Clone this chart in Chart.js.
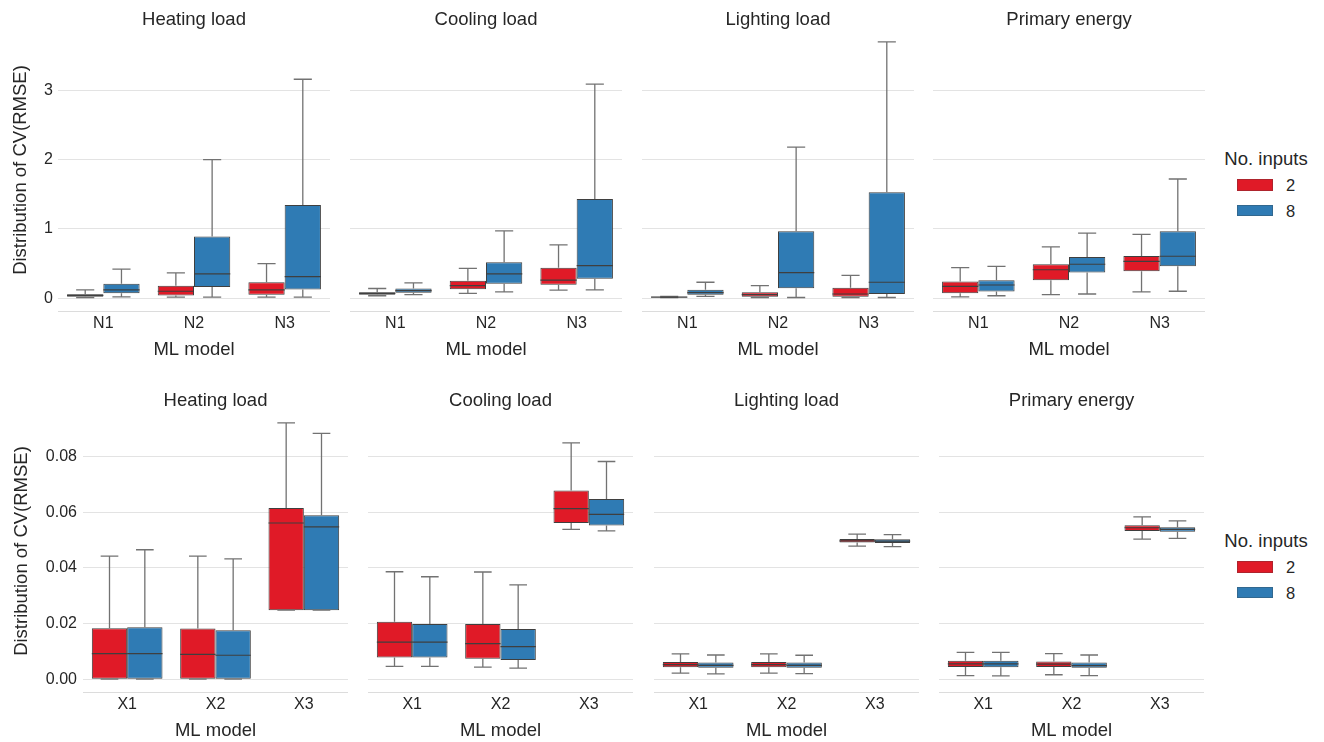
<!DOCTYPE html>
<html>
<head>
<meta charset="utf-8">
<script src="https://cdn.jsdelivr.net/npm/chart.js@4.4.1/dist/chart.umd.min.js"></script>
<style>
  body { margin: 0; background: #fff; width: 1324px; height: 742px; overflow: hidden; position: relative;
         font-family: "Liberation Sans", Arial, sans-serif; color: #262626; }
  canvas { position: absolute; }
  .lg-title { position: absolute; width: 100px; text-align: center; font-size: 18.5px; line-height: 20px; }
  .lg-box { position: absolute; width: 36px; height: 11.5px; box-sizing: border-box; border: 1px solid rgba(60,60,60,0.3); }
  .lg-text { position: absolute; font-size: 16.5px; line-height: 20px; }
</style>
</head>
<body>
<canvas id="n0"></canvas><canvas id="n1"></canvas><canvas id="n2"></canvas><canvas id="n3"></canvas>
<canvas id="x0"></canvas><canvas id="x1"></canvas><canvas id="x2"></canvas><canvas id="x3"></canvas>
<div id="legends"></div>
<script>
// ---- data ----
const loadNames = ['Heating load', 'Cooling load', 'Lighting load', 'Primary energy'];
const nModels = ['N1', 'N2', 'N3'];
const xModels = ['X1', 'X2', 'X3'];
const inputCounts = ['2', '8'];
const nTicks = [0, 1, 2, 3];
const xTicks = [0, 0.02, 0.04, 0.06, 0.08];
const xAxisTitle = 'ML model';
const yAxisTitle = 'Distribution of CV(RMSE)';
const legendTitle = 'No. inputs';

// each row: [min, q1, median, q3, max]
const nHeating2 = [[0.008, 0.022, 0.04, 0.058, 0.12], [0.015, 0.04, 0.10, 0.18, 0.365], [0.015, 0.05, 0.12, 0.23, 0.50]];
const nHeating8 = [[0.02, 0.07, 0.12, 0.21, 0.42], [0.015, 0.16, 0.35, 0.89, 2.0], [0.015, 0.125, 0.31, 1.345, 3.16]];
const nCooling2 = [[0.035, 0.05, 0.07, 0.085, 0.14], [0.07, 0.13, 0.18, 0.25, 0.43], [0.115, 0.195, 0.26, 0.44, 0.77]];
const nCooling8 = [[0.05, 0.08, 0.11, 0.14, 0.22], [0.09, 0.21, 0.35, 0.52, 0.97], [0.12, 0.28, 0.47, 1.43, 3.09]];
const nLighting2 = [[0.008, 0.012, 0.015, 0.02, 0.025], [0.01, 0.02, 0.05, 0.085, 0.18], [0.01, 0.02, 0.06, 0.15, 0.33]];
const nLighting8 = [[0.025, 0.05, 0.08, 0.12, 0.23], [0.01, 0.145, 0.37, 0.965, 2.18], [0.01, 0.06, 0.23, 1.53, 3.70]];
const nPrimary2 = [[0.02, 0.07, 0.17, 0.24, 0.44], [0.05, 0.26, 0.41, 0.49, 0.74], [0.09, 0.39, 0.53, 0.61, 0.92]];
const nPrimary8 = [[0.035, 0.095, 0.19, 0.26, 0.46], [0.06, 0.37, 0.49, 0.595, 0.94], [0.10, 0.46, 0.605, 0.965, 1.72]];

const xHeating2 = [[0, 0, 0.0092, 0.0183, 0.0442], [0, 0, 0.0089, 0.0182, 0.0442], [0.0248, 0.0248, 0.0561, 0.0615, 0.0921]];
const xHeating8 = [[0, 0, 0.0092, 0.0187, 0.0465], [0, 0, 0.0086, 0.0176, 0.0432], [0.0248, 0.0248, 0.0547, 0.0589, 0.0883]];
const xCooling2 = [[0.0046, 0.0078, 0.0133, 0.0206, 0.0386], [0.0043, 0.0073, 0.0128, 0.0198, 0.0385], [0.0538, 0.0561, 0.0613, 0.0678, 0.0849]];
const xCooling8 = [[0.0046, 0.0078, 0.0133, 0.0198, 0.0368], [0.004, 0.0069, 0.0117, 0.018, 0.0339], [0.0533, 0.0552, 0.0592, 0.0647, 0.0782]];
const xLighting2 = [[0.0022, 0.0043, 0.0052, 0.0062, 0.0091], [0.0022, 0.0043, 0.0052, 0.0062, 0.0091], [0.0478, 0.0491, 0.0497, 0.0504, 0.0521]];
const xLighting8 = [[0.0019, 0.0041, 0.005, 0.006, 0.0087], [0.002, 0.0041, 0.005, 0.006, 0.0086], [0.0476, 0.0489, 0.0496, 0.0503, 0.0519]];
const xPrimary2 = [[0.0013, 0.0044, 0.0055, 0.0066, 0.0096], [0.0016, 0.0044, 0.0054, 0.0064, 0.0092], [0.0503, 0.0532, 0.0544, 0.0553, 0.0583]];
const xPrimary8 = [[0.0012, 0.0043, 0.0055, 0.0066, 0.0096], [0.0013, 0.0041, 0.0049, 0.006, 0.0087], [0.0506, 0.053, 0.0538, 0.0546, 0.0569]];

// ---- style ----
const RED = '#e01a27';
const BLUE = '#2f7bb4';
const LINE = '#3f3f3f';
const WHISKER = '#727272';
const GRID = '#e3e3e3';
const TEXT = '#262626';
const FONT = '"Liberation Sans", Arial, sans-serif';
const AXIS_H = 50;
const LABEL_SIZE = 18.5;
const TICK_SIZE = 16;

Chart.defaults.font.family = FONT;
Chart.defaults.color = TEXT;

// whiskers, caps and median lines on top of the floating bars
const boxWhiskers = {
  id: 'boxWhiskers',
  afterDatasetsDraw(chart) {
    const ctx = chart.ctx;
    const y = chart.scales.y;
    chart.data.datasets.forEach((ds, di) => {
      chart.getDatasetMeta(di).data.forEach((bar, i) => {
        const [lo, q1, med, q3, hi] = ds.stats[i];
        const half = bar.width / 2;
        const cap = bar.width / 4;
        const x = bar.x;
        ctx.save();
        ctx.strokeStyle = WHISKER;
        ctx.lineWidth = 1.3;
        ctx.beginPath();
        ctx.moveTo(x, y.getPixelForValue(q3));
        ctx.lineTo(x, y.getPixelForValue(hi));
        ctx.moveTo(x - cap, y.getPixelForValue(hi));
        ctx.lineTo(x + cap, y.getPixelForValue(hi));
        ctx.moveTo(x, y.getPixelForValue(q1));
        ctx.lineTo(x, y.getPixelForValue(lo));
        ctx.moveTo(x - cap, y.getPixelForValue(lo));
        ctx.lineTo(x + cap, y.getPixelForValue(lo));
        ctx.stroke();
        ctx.strokeStyle = LINE;
        ctx.lineWidth = 1.2;
        ctx.beginPath();
        ctx.moveTo(x - half, y.getPixelForValue(med));
        ctx.lineTo(x + half, y.getPixelForValue(med));
        ctx.stroke();
        ctx.restore();
      });
    });
  }
};

function boxDataset(stats, color, label) {
  return {
    label: label,
    stats: stats,
    data: stats.map(s => [s[1], s[3]]),
    backgroundColor: color,
    borderColor: LINE,
    borderWidth: 1,
    borderSkipped: false,
    categoryPercentage: 0.8,
    barPercentage: 1.0
  };
}

function makePanel(id, p) {
  const el = document.getElementById(id);
  const yW = p.first ? p.left : 0;
  el.width = yW + p.plotW;
  el.height = p.height;
  el.style.left = (p.left - yW) + 'px';
  el.style.top = p.top + 'px';

  new Chart(el, {
    type: 'bar',
    data: {
      labels: p.labels,
      datasets: [boxDataset(p.s2, RED, inputCounts[0]), boxDataset(p.s8, BLUE, inputCounts[1])]
    },
    options: {
      responsive: false,
      animation: false,
      events: [],
      layout: { padding: 0 },
      plugins: {
        legend: { display: false },
        tooltip: { enabled: false },
        title: {
          display: true, text: p.title, fullSize: false, color: TEXT,
          font: { size: LABEL_SIZE, weight: 'normal', lineHeight: 1 },
          padding: { top: p.titlePad, bottom: 0 }
        }
      },
      scales: {
        x: {
          grid: { display: false, drawTicks: false },
          border: { display: true, color: '#dcdcdc', width: 1 },
          ticks: { padding: 3, font: { size: TICK_SIZE }, color: TEXT },
          title: { display: true, text: xAxisTitle, color: TEXT, font: { size: LABEL_SIZE }, padding: { top: 0, bottom: 0 } },
          afterFit: s => { s.height = AXIS_H; }
        },
        y: {
          min: p.yMin,
          max: p.yMax,
          afterBuildTicks: s => { s.ticks = p.ticks.map(v => ({ value: v })); },
          grid: { color: GRID, lineWidth: 1, drawTicks: false },
          border: { display: false },
          ticks: { display: p.first, padding: p.tickPad, font: { size: TICK_SIZE }, color: TEXT, callback: p.fmt },
          title: { display: p.first, text: yAxisTitle, color: TEXT, font: { size: LABEL_SIZE }, padding: { top: p.yTitlePad, bottom: 0 } },
          afterFit: s => { s.width = yW; }
        }
      }
    },
    plugins: [boxWhiskers]
  });
}

const nSets = [[nHeating2, nHeating8], [nCooling2, nCooling8], [nLighting2, nLighting8], [nPrimary2, nPrimary8]];
const xSets = [[xHeating2, xHeating8], [xCooling2, xCooling8], [xLighting2, xLighting8], [xPrimary2, xPrimary8]];

const topLefts = [58, 350, 642, 933];
const bottomLefts = [83, 368, 654, 939];

nSets.forEach((s, i) => makePanel('n' + i, {
  left: topLefts[i], top: 0, plotW: 272, height: 361, titlePad: 10.5,
  first: i === 0, labels: nModels, s2: s[0], s8: s[1], title: loadNames[i],
  yMin: -0.185, yMax: 3.885, ticks: nTicks, fmt: v => String(v), tickPad: 5, yTitlePad: 10
}));

xSets.forEach((s, i) => makePanel('x' + i, {
  left: bottomLefts[i], top: 380, plotW: 265, height: 362, titlePad: 11.5,
  first: i === 0, labels: xModels, s2: s[0], s8: s[1], title: loadNames[i],
  yMin: -0.0046, yMax: 0.0967, ticks: xTicks, fmt: v => v.toFixed(2), tickPad: 6, yTitlePad: 11
}));

// legends (one per row)
const legendHolder = document.getElementById('legends');
[149, 531].forEach(top => {
  let html = `<div class="lg-title" style="left:1216px;top:${top}px">${legendTitle}</div>`;
  [RED, BLUE].forEach((c, k) => {
    const cy = top + 36 + k * 25.5;
    html += `<div class="lg-box" style="left:1237px;top:${cy - 5.75}px;background:${c}"></div>`;
    html += `<div class="lg-text" style="left:1286px;top:${cy - 10}px">${inputCounts[k]}</div>`;
  });
  legendHolder.insertAdjacentHTML('beforeend', html);
});
</script>
</body>
</html>
